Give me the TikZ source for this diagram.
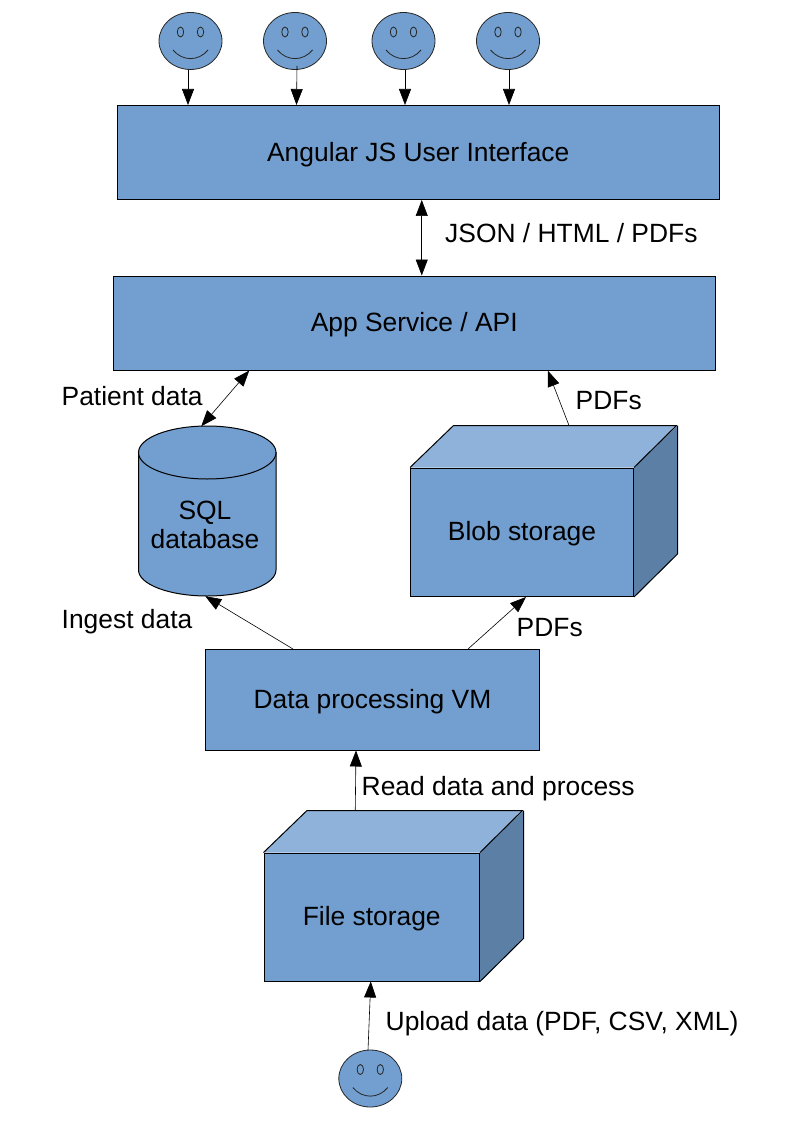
\documentclass[tikz,border=0pt]{standalone}
\usepackage{fontspec}
\setmainfont{Liberation Sans}
\usetikzlibrary{arrows.meta,calc,shapes.geometric}
\definecolor{boxblue}{HTML}{729FCF}
\definecolor{boxlight}{HTML}{8EB2DA}
\definecolor{boxdark}{HTML}{5C7FA6}
\newcommand{\boxtext}[1]{\raisebox{-8.7pt}[0pt][0pt]{#1}}
\tikzset{
  boxnode/.style={draw=black,fill=boxblue,line width=1pt,inner sep=0pt,font=\fontsize{26.4}{29}\selectfont,align=center},
  facenode/.style={ellipse,draw=black!85,fill=boxblue,line width=0.8pt,inner sep=0pt,minimum width=63pt,minimum height=57pt},
  facepart/.style={draw=black!85,line width=0.8pt},
  shapeline/.style={draw=black,line width=1pt},
  holder/.style={inner sep=0pt,font=\fontsize{26.4}{29}\selectfont,align=center},
  lbl/.style={inner sep=0pt,anchor=base west,font=\fontsize{26.4}{29}\selectfont},
  one/.style={-{Triangle[width=12pt,length=16pt]},line width=0.6pt},
  two/.style={{Triangle[width=12pt,length=16pt]}-{Triangle[width=12pt,length=16pt]},line width=0.6pt},
}
\newcommand{\smiley}[2]{%
  \node[facenode] (#1) at (#2) {};
  \draw[facepart] ($(#1.center)+(-10,-9)$) ellipse (3.2 and 5);
  \draw[facepart] ($(#1.center)+(10,-9)$) ellipse (3.2 and 5);
  \draw[facepart] ($(#1.center)+(-17.5,9)$) .. controls ($(#1.center)+(-8,20.5)$) and ($(#1.center)+(8,20.5)$) .. ($(#1.center)+(17.5,9)$);
}
\newcommand{\cuboid}[5]{%
  % name, centre, width, height, text
  \node[boxnode,minimum width=#3pt,minimum height=#4pt] (#1) at (#2) {\boxtext{#5}};
  \fill[boxlight] (#1.north west) -- ++(43.5,-42) -- ++(#3,0) -- (#1.north east) -- cycle;
  \fill[boxdark] (#1.north east) -- ++(43.5,-42) -- ++(0,#4) -- (#1.south east) -- cycle;
  \draw[shapeline,line join=round] (#1.north west) -- ++(43.5,-42) -- ++(#3,0) -- (#1.north east) (#1.north east) ++(43.5,-42) -- ++(0,#4) -- (#1.south east);
}
\begin{document}
\begin{tikzpicture}[x=1pt,y=-1pt]
\useasboundingbox (0,0) rectangle (794,1123);

\node[boxnode,minimum width=602.5pt,minimum height=94pt] (ui) at (418.25,152.5) {\boxtext{Angular JS User Interface}};
\node[boxnode,minimum width=602.5pt,minimum height=94pt] (app) at (414.25,323) {\boxtext{App Service / API}};
\node[boxnode,minimum width=334pt,minimum height=100.5pt] (vm) at (372.5,699.75) {\boxtext{Data processing VM}};

\smiley{f1}{190.5,41}
\smiley{f2}{295,41}
\smiley{f3}{403.5,41}
\smiley{f4}{508,41}
\smiley{f5}{370.3,1078.5}

% SQL database
\filldraw[shapeline,fill=boxblue] (138.5,452.5) -- (138.5,570) arc[start angle=180,end angle=0,x radius=68.75,y radius=26] -- (276,452.5) -- cycle;
\filldraw[shapeline,fill=boxblue] (207.25,452.5) ellipse (68.75 and 26.5);
\node[holder,minimum width=137.5pt,minimum height=170pt] (sql) at (207.25,511) {};
\node[holder] (sqltext) at (205,525) {SQL\\database};

\cuboid{blob}{522,532.25}{223}{128.5}{Blob storage}
\cuboid{file}{371.75,917}{215.5}{128}{File storage}

% connectors
\draw[one] ([xshift=-2.5]f1.south) -- ([xshift=-2.5]f1.south |- ui.north);
\draw[one] ([xshift=2,yshift=4]f2.south) -- ([xshift=1.5]f2.south |- ui.north);
\draw[one] ([xshift=1.5]f3.south) -- ([xshift=1.5]f3.south |- ui.north);
\draw[one] ([xshift=1]f4.south) -- ([xshift=1]f4.south |- ui.north);
\draw[two] ([xshift=3.5]ui.south) -- ([xshift=7.5]app.north);
\draw[two] ([xshift=-165]app.south) -- ([xshift=-6,yshift=-.5]sql.north);
\draw[one] ([xshift=47,yshift=42]blob.north) -- ([xshift=133.5]app.south);
\draw[one] ([xshift=-79.5]vm.north) -- ([xshift=-2]sql.south);
\draw[one] ([xshift=95.5]vm.north) -- ([xshift=4]blob.south);
\draw[one] ([xshift=-16.5,yshift=42]file.north) -- ([xshift=-16.5]vm.south);
\draw[one] ([xshift=-2.3,yshift=-.5]f5.north) -- ([xshift=-1]file.south);

% labels
\node[lbl] (l1) at (445,242.5) {JSON / HTML / PDFs};
\node[lbl] (l2) at (61.5,405) {Patient data};
\node[lbl] (l3) at (575.5,409) {PDFs};
\node[lbl] (l4) at (61.5,628) {Ingest data};
\node[lbl] (l5) at (516.5,636) {PDFs};
\node[lbl] (l6) at (361.5,795) {Read data and process};
\node[lbl] (l7) at (385.5,1030) {Upload data (PDF, CSV, XML)};
\end{tikzpicture}
\end{document}
